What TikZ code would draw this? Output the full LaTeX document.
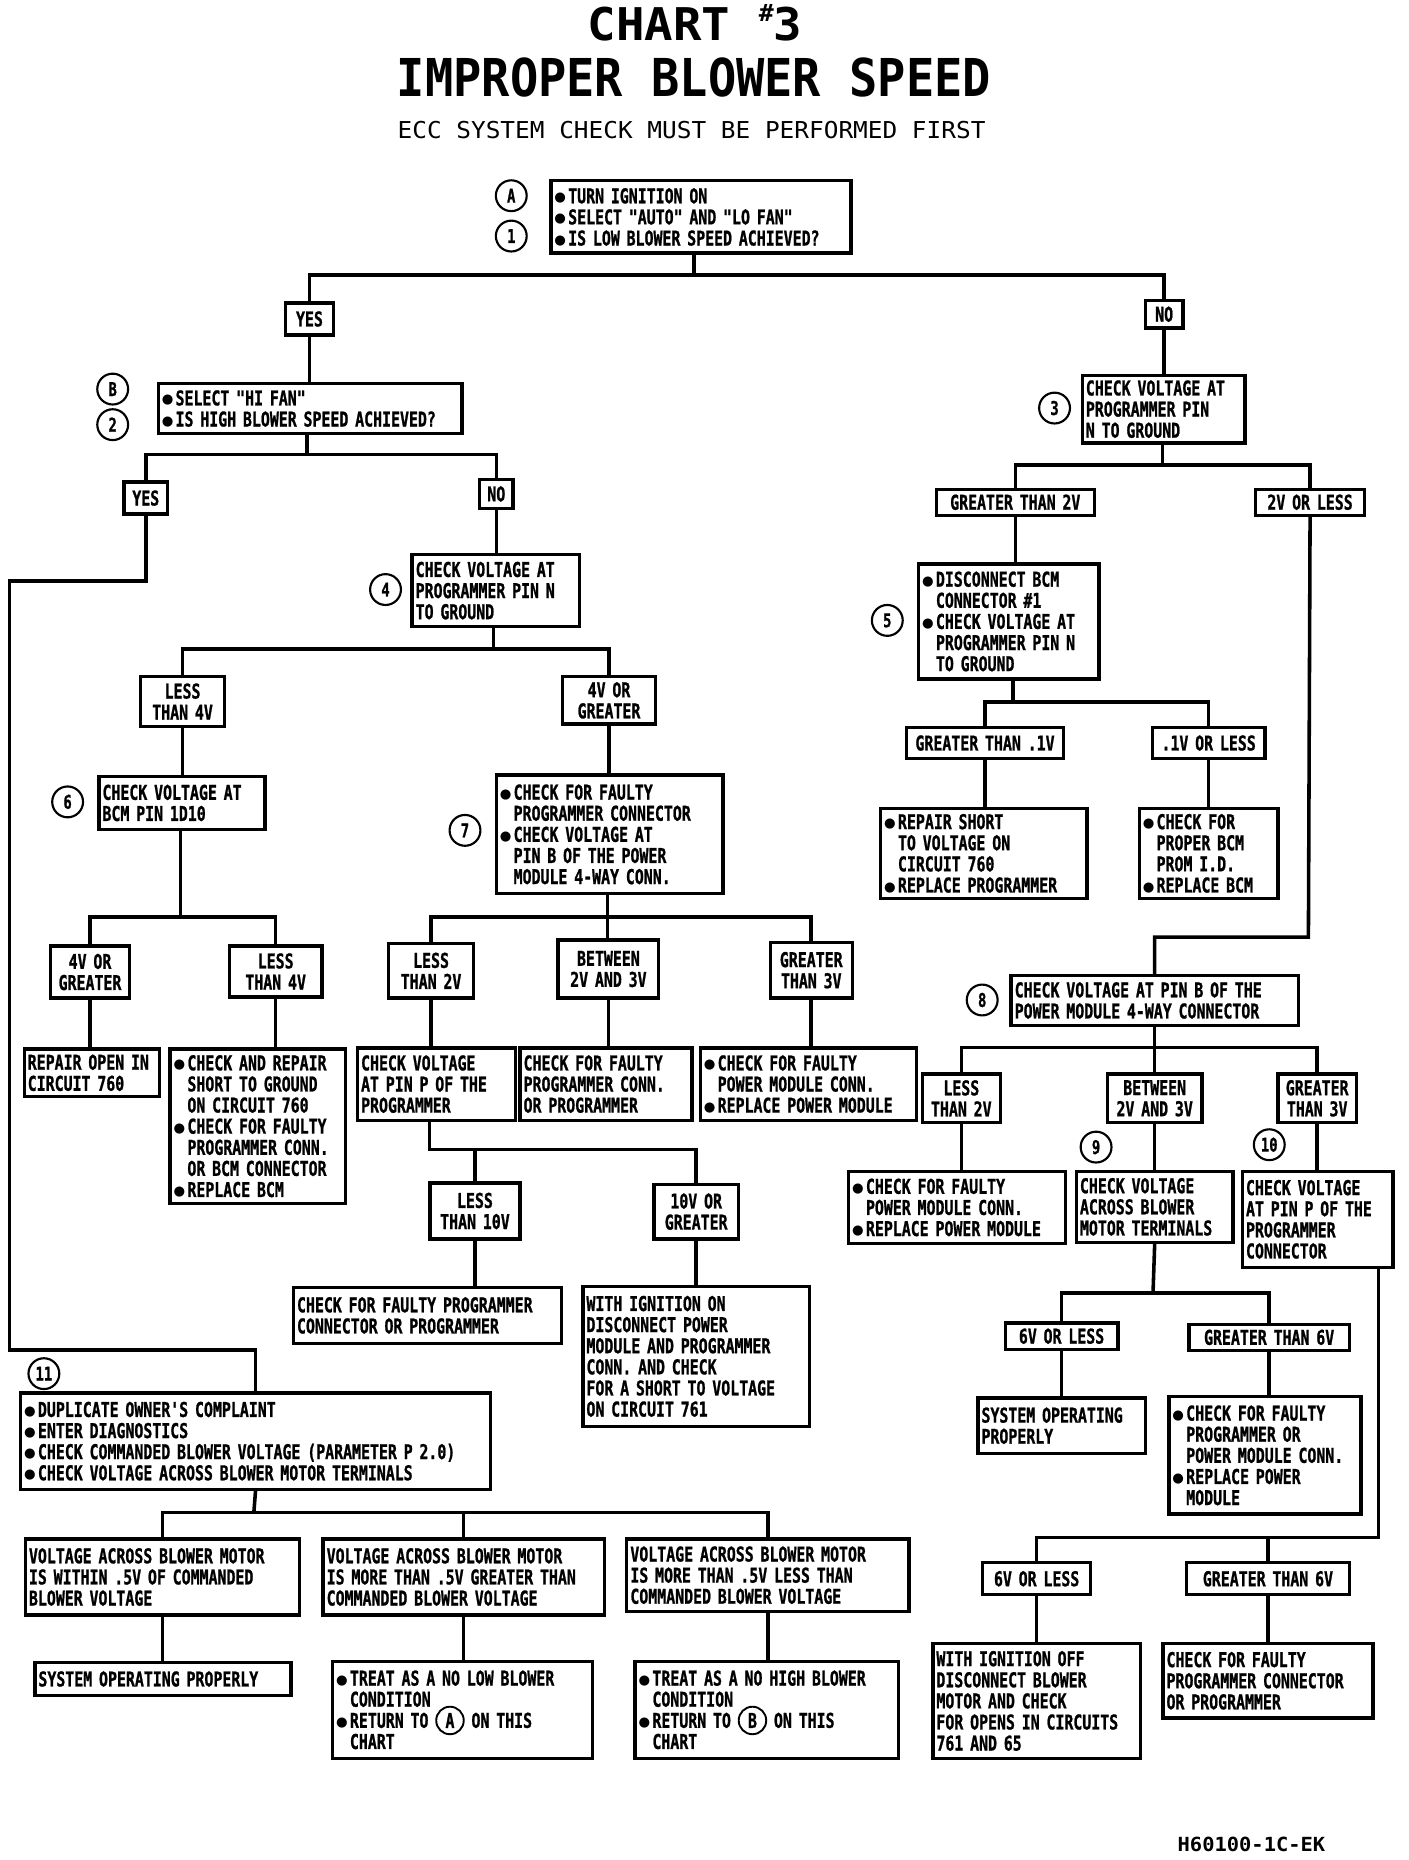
\documentclass[tikz,border=0pt]{standalone}
\usepackage{fontspec}
\newfontfamily\chartfont[FakeStretch=0.73, FakeBold=1]{DejaVu Sans Mono}
\newfontfamily\headfont[FakeStretch=0.9]{DejaVu Sans Mono}
\newfontfamily\widefont[FakeStretch=1.05]{DejaVu Sans Mono}
\newfontfamily\dotfont{DejaVu Sans}
% 项目符号与缩进
\newcommand{\itemdot}{\makebox[5.8pt][l]{\raisebox{0.6pt}{\dotfont\fontsize{5.6pt}{5.6pt}\selectfont ●}}}
\newcommand{\itemgap}{\hspace*{5.8pt}}
% 文字中的圆圈标记
\newcommand{\circtag}[1]{\smash{\begin{pgfpicture}\pgfsetbaseline{0pt}\pgfsetlinewidth{0.8pt}%
  \pgfpathcircle{\pgfpoint{0pt}{3.1pt}}{5.8pt}\pgfusepath{stroke}%
  \pgftext[at={\pgfpoint{0pt}{3.1pt}}]{#1}\end{pgfpicture}}}
\tikzset{
  cbox/.style={draw, line width=1.4pt, anchor=north west, align=left,
    inner xsep=1.5pt, inner ysep=1.5pt,
    font=\chartfont\bfseries\fontsize{8.6pt}{8.9pt}\selectfont},
  lbl/.style={cbox, align=center},
  tag/.style={circle, draw, line width=0.9pt, minimum size=13pt, inner sep=0pt,
    font=\chartfont\bfseries\fontsize{8pt}{8pt}\selectfont},
  wire/.style={line width=1.5pt}
}
\begin{document}
\begin{tikzpicture}[x=0.5pt, y=-0.5pt]
    \useasboundingbox (0,0) rectangle (1187,1568);

    % 标题
    \node[anchor=base, font=\widefont\bfseries\fontsize{19pt}{19pt}\selectfont] (chart) at (586,34)
        {CHART \raisebox{8pt}{\fontsize{10pt}{10pt}\selectfont\#}3};
    \node[anchor=base, font=\headfont\bfseries\fontsize{22pt}{22pt}\selectfont] (head) at (585,81)
        {IMPROPER BLOWER SPEED};
    \node[anchor=base, font=\widefont\fontsize{9.8pt}{9.8pt}\selectfont] (note) at (583,117)
        {ECC SYSTEM CHECK MUST BE PERFORMED FIRST};
    \node[anchor=base, font=\widefont\bfseries\fontsize{8.2pt}{8.2pt}\selectfont] (code) at (1055,1561)
        {H60100-1C-EK};

    % 圆圈编号
    \foreach \t/\x/\y in {A/431/165, 1/431/199, B/95/328, 2/95/358, 3/889/344,
        4/325/497, 5/748/523, 6/57/676, 7/392/700, 8/828/843, 9/924/967,
        10/1070/965, 11/37/1158} {
        \node[tag] (c\t) at (\x,\y) {\t};
    }

    % 开始
    \node[cbox, text width=123.5pt, minimum height=30.5pt] (start) at (463,151)
        {\itemdot TURN IGNITION ON\\\itemdot SELECT "AUTO" AND "LO FAN"\\\itemdot IS LOW BLOWER SPEED ACHIEVED?};
    \node[lbl, text width=17.5pt, minimum height=13.5pt] (yes1) at (239,254) {YES};
    \node[lbl, text width=13pt, minimum height=11.5pt] (no1) at (964,252) {NO};

    % 左侧分支
    \node[cbox, text width=125pt, minimum height=21pt] (hifan) at (132,322)
        {\itemdot SELECT "HI FAN"\\\itemdot IS HIGH BLOWER SPEED ACHIEVED?};
    \node[lbl, text width=15.5pt, minimum height=13.5pt] (yes2) at (103,405) {YES};
    \node[lbl, text width=11pt, minimum height=12pt] (no2) at (403,403) {NO};
    \node[cbox, text width=67.5pt, minimum height=30.5pt] (pinN) at (346,466)
        {CHECK VOLTAGE AT\\PROGRAMMER PIN N\\TO GROUND};
    \node[lbl, text width=32.5pt, minimum height=21pt] (lt4) at (117,569) {LESS\\THAN 4V};
    \node[lbl, text width=36pt, minimum height=20pt] (ge4) at (473,569) {4V OR\\GREATER};
    \node[cbox, text width=67pt, minimum height=22.5pt] (bcmpin) at (82,653)
        {CHECK VOLTAGE AT\\BCM PIN 1D10};
    \node[lbl, text width=30.5pt, minimum height=22pt] (ge4b) at (41,796) {4V OR\\GREATER};
    \node[lbl, text width=36pt, minimum height=21.5pt] (lt4b) at (192,796) {LESS\\THAN 4V};
    \node[cbox, text width=54pt, minimum height=20pt] (open760) at (19,883)
        {REPAIR OPEN IN\\CIRCUIT 760};
    \node[cbox, text width=71pt, minimum height=65pt] (short760) at (142,883)
        {\itemdot CHECK AND REPAIR\\\itemgap SHORT TO GROUND\\\itemgap ON CIRCUIT 760\\\itemdot CHECK FOR FAULTY\\\itemgap PROGRAMMER CONN.\\\itemgap OR BCM CONNECTOR\\\itemdot REPLACE BCM};
    \node[cbox, text width=92.5pt, minimum height=50pt] (pinB) at (417,652)
        {\itemdot CHECK FOR FAULTY\\\itemgap PROGRAMMER CONNECTOR\\\itemdot CHECK VOLTAGE AT\\\itemgap PIN B OF THE POWER\\\itemgap MODULE 4-WAY CONN.};
    \node[lbl, text width=33pt, minimum height=23pt] (lt2) at (326,794) {LESS\\THAN 2V};
    \node[lbl, text width=39.5pt, minimum height=24.5pt] (bt23) at (469,791) {BETWEEN\\2V AND 3V};
    \node[lbl, text width=31.5pt, minimum height=23.5pt] (gt3) at (648,793) {GREATER\\THAN 3V};
    \node[cbox, text width=63.5pt, minimum height=30.5pt] (pinP) at (300,882)
        {CHECK VOLTAGE\\AT PIN P OF THE\\PROGRAMMER};
    \node[cbox, text width=69.5pt, minimum height=30.5pt] (progconn) at (437,882)
        {CHECK FOR FAULTY\\PROGRAMMER CONN.\\OR PROGRAMMER};
    \node[cbox, text width=88pt, minimum height=30.5pt] (pmconn) at (589,882)
        {\itemdot CHECK FOR FAULTY\\\itemgap POWER MODULE CONN.\\\itemdot REPLACE POWER MODULE};
    \node[lbl, text width=35pt, minimum height=23.5pt] (lt10) at (361,996) {LESS\\THAN 10V};
    \node[lbl, text width=32.5pt, minimum height=23pt] (ge10) at (550,997) {10V OR\\GREATER};
    \node[cbox, text width=110pt, minimum height=23.5pt] (progfault) at (246,1084)
        {CHECK FOR FAULTY PROGRAMMER\\CONNECTOR OR PROGRAMMER};
    \node[cbox, text width=92.5pt, minimum height=59pt] (short761) at (490,1083)
        {WITH IGNITION ON\\DISCONNECT POWER\\MODULE AND PROGRAMMER\\CONN. AND CHECK\\FOR A SHORT TO VOLTAGE\\ON CIRCUIT 761};

    % 右侧分支
    \node[cbox, text width=65.5pt, minimum height=28.5pt] (pinN2) at (911,315)
        {CHECK VOLTAGE AT\\PROGRAMMER PIN\\N TO GROUND};
    \node[lbl, text width=63.5pt, minimum height=11pt] (gt2v) at (788,411) {GREATER THAN 2V};
    \node[lbl, text width=43pt, minimum height=11pt] (le2v) at (1057,411) {2V OR LESS};
    \node[cbox, text width=73pt, minimum height=48.5pt] (bcmconn) at (773,474)
        {\itemdot DISCONNECT BCM\\\itemgap CONNECTOR \#1\\\itemdot CHECK VOLTAGE AT\\\itemgap PROGRAMMER PIN N\\\itemgap TO GROUND};
    \node[lbl, text width=63pt, minimum height=13pt] (gt01) at (763,612) {GREATER THAN .1V};
    \node[lbl, text width=44.5pt, minimum height=13pt] (le01) at (970,612) {.1V OR LESS};
    \node[cbox, text width=84pt, minimum height=38pt] (repshort) at (741,680)
        {\itemdot REPAIR SHORT\\\itemgap TO VOLTAGE ON\\\itemgap CIRCUIT 760\\\itemdot REPLACE PROGRAMMER};
    \node[cbox, text width=55.5pt, minimum height=38pt] (prom) at (959,680)
        {\itemdot CHECK FOR\\\itemgap PROPER BCM\\\itemgap PROM I.D.\\\itemdot REPLACE BCM};
    \node[cbox, text width=118pt, minimum height=21pt] (pinB2) at (851,821)
        {CHECK VOLTAGE AT PIN B OF THE\\POWER MODULE 4-WAY CONNECTOR};
    \node[lbl, text width=30pt, minimum height=20.5pt] (lt2b) at (776,904) {LESS\\THAN 2V};
    \node[lbl, text width=37pt, minimum height=20.5pt] (bt23b) at (932,904) {BETWEEN\\2V AND 3V};
    \node[lbl, text width=30pt, minimum height=20.5pt] (gt3b) at (1076,904) {GREATER\\THAN 3V};
    \node[cbox, text width=88.5pt, minimum height=30.5pt] (pmconn2) at (714,986)
        {\itemdot CHECK FOR FAULTY\\\itemgap POWER MODULE CONN.\\\itemdot REPLACE POWER MODULE};
    \node[cbox, text width=63pt, minimum height=30pt] (motor) at (906,986)
        {CHECK VOLTAGE\\ACROSS BLOWER\\MOTOR TERMINALS};
    \node[cbox, text width=60.5pt, minimum height=40.5pt] (pinP2) at (1046,986)
        {CHECK VOLTAGE\\AT PIN P OF THE\\PROGRAMMER\\CONNECTOR};
    \node[lbl, text width=44.5pt, minimum height=11pt] (le6) at (846,1114) {6V OR LESS};
    \node[lbl, text width=64.5pt, minimum height=11pt] (gt6) at (1001,1115) {GREATER THAN 6V};
    \node[cbox, text width=67.5pt, minimum height=23.5pt] (sysok) at (823,1177)
        {SYSTEM OPERATING\\PROPERLY};
    \node[cbox, text width=78pt, minimum height=49.5pt] (pmfault) at (984,1176)
        {\itemdot CHECK FOR FAULTY\\\itemgap PROGRAMMER OR\\\itemgap POWER MODULE CONN.\\\itemdot REPLACE POWER\\\itemgap MODULE};
    \node[lbl, text width=42.5pt, minimum height=13.5pt] (le6b) at (827,1316) {6V OR LESS};
    \node[lbl, text width=65.5pt, minimum height=13.5pt] (gt6b) at (999,1316) {GREATER THAN 6V};
    \node[cbox, text width=84.5pt, minimum height=48.5pt] (opens) at (785,1384)
        {WITH IGNITION OFF\\DISCONNECT BLOWER\\MOTOR AND CHECK\\FOR OPENS IN CIRCUITS\\761 AND 65};
    \node[cbox, text width=85.5pt, minimum height=31.5pt] (progfault2) at (979,1384)
        {CHECK FOR FAULTY\\PROGRAMMER CONNECTOR\\OR PROGRAMMER};

    % 底部
    \node[cbox, text width=195pt, minimum height=40.5pt] (diag) at (16,1173)
        {\itemdot DUPLICATE OWNER'S COMPLAINT\\\itemdot ENTER DIAGNOSTICS\\\itemdot CHECK COMMANDED BLOWER VOLTAGE (PARAMETER P 2.0)\\\itemdot CHECK VOLTAGE ACROSS BLOWER MOTOR TERMINALS};
    \node[cbox, text width=112.5pt, minimum height=32pt] (within) at (20,1296)
        {VOLTAGE ACROSS BLOWER MOTOR\\IS WITHIN .5V OF COMMANDED\\BLOWER VOLTAGE};
    \node[cbox, text width=115.5pt, minimum height=32pt] (above) at (271,1296)
        {VOLTAGE ACROSS BLOWER MOTOR\\IS MORE THAN .5V GREATER THAN\\COMMANDED BLOWER VOLTAGE};
    \node[cbox, text width=116pt, minimum height=30.5pt] (below) at (527,1296)
        {VOLTAGE ACROSS BLOWER MOTOR\\IS MORE THAN .5V LESS THAN\\COMMANDED BLOWER VOLTAGE};
    \node[cbox, text width=105pt, minimum height=14pt] (sysok2) at (28,1400)
        {SYSTEM OPERATING PROPERLY};
    \node[cbox, text width=106.5pt, minimum height=41pt] (lowblow) at (279,1399)
        {\itemdot TREAT AS A NO LOW BLOWER\\\itemgap CONDITION\\\itemdot RETURN TO \circtag{A} ON THIS\\\itemgap CHART};
    \node[cbox, text width=108pt, minimum height=41pt] (highblow) at (534,1399)
        {\itemdot TREAT AS A NO HIGH BLOWER\\\itemgap CONDITION\\\itemdot RETURN TO \circtag{B} ON THIS\\\itemgap CHART};

    % 分叉点
    \coordinate (s1) at (585,232);
    \coordinate (s2) at (259,383);
    \coordinate (s4) at (416,547);
    \coordinate (s6) at (152,773);
    \coordinate (s7) at (512,773);
    \coordinate (s7a) at (362,969);
    \coordinate (s3) at (980,392);
    \coordinate (s5) at (854,592);
    \coordinate (s8) at (972,883);
    \coordinate (s9) at (972,1090);
    \coordinate (s10) at (1162,1296);
    \coordinate (s11) at (214,1275);
    \coordinate (k1) at (8,490);
    \coordinate (k2) at (8,1138);
    \coordinate (k3) at (1103,790);

    % 连线
    \draw[wire] (start.south -| s1) -- (s1);
    \draw[wire] (yes1.north) |- (s1) -| (no1.north);
    \draw[wire] (yes1.south) -- (yes1.south |- hifan.north);
    \draw[wire] (no1.south) -- (no1.south |- pinN2.north);

    \draw[wire] (hifan.south -| s2) -- (s2);
    \draw[wire] (yes2.north) |- (s2) -| (no2.north);
    \draw[wire] (no2.south) -- (no2.south |- pinN.north);
    \draw[wire] (yes2.south) |- (k1) -- (k2) -| (diag.north);

    \draw[wire] (pinN.south -| s4) -- (s4);
    \draw[wire] (lt4.north) |- (s4) -| (ge4.north);
    \draw[wire] (lt4.south) -- (lt4.south |- bcmpin.north);
    \draw[wire] (ge4.south) -- (ge4.south |- pinB.north);
    \draw[wire] (bcmpin.south -| s6) -- (s6);
    \draw[wire] (ge4b.north) |- (s6) -| (lt4b.north);
    \draw[wire] (ge4b.south) -- (ge4b.south |- open760.north);
    \draw[wire] (lt4b.south) -- (lt4b.south |- short760.north);

    \draw[wire] (pinB.south -| s7) -- (s7 |- bt23.north);
    \draw[wire] (lt2.north) |- (s7) -| (gt3.north);
    \draw[wire] (lt2.south) -- (lt2.south |- pinP.north);
    \draw[wire] (bt23.south) -- (bt23.south |- progconn.north);
    \draw[wire] (gt3.south) -- (gt3.south |- pmconn.north);
    \draw[wire] (pinP.south -| s7a) -- (s7a) -| (ge10.north);
    \draw[wire] (lt10.north) -- (lt10.north |- s7a);
    \draw[wire] (lt10.south) -- (lt10.south |- progfault.north);
    \draw[wire] (ge10.south) -- (ge10.south |- short761.north);

    \draw[wire] (pinN2.south -| s3) -- (s3);
    \draw[wire] (gt2v.north) |- (s3) -| (le2v.north);
    \draw[wire] (gt2v.south) -- (gt2v.south |- bcmconn.north);
    \draw[wire] (le2v.south) -- (k3) -| (pinB2.north);
    \draw[wire] (bcmconn.south -| s5) -- (s5);
    \draw[wire] (gt01.north) |- (s5) -| (le01.north);
    \draw[wire] (gt01.south) -- (gt01.south |- repshort.north);
    \draw[wire] (le01.south) -- (le01.south |- prom.north);

    \draw[wire] (pinB2.south) -- (pinB2.south |- bt23b.north);
    \draw[wire] (lt2b.north) |- (s8) -| (gt3b.north);
    \draw[wire] (lt2b.south) -- (lt2b.south |- pmconn2.north);
    \draw[wire] (bt23b.south) -- (bt23b.south |- motor.north);
    \draw[wire] (gt3b.south) -- (gt3b.south |- pinP2.north);
    \draw[wire] (motor.south) -- (s9);
    \draw[wire] (le6.north) |- (s9) -| (gt6.north);
    \draw[wire] (le6.south) -- (le6.south |- sysok.north);
    \draw[wire] (gt6.south) -- (gt6.south |- pmfault.north);
    \draw[wire] (pinP2.south -| s10) -- (s10) -| (le6b.north);
    \draw[wire] (gt6b.north) -- (gt6b.north |- s10);
    \draw[wire] (le6b.south) -- (le6b.south |- opens.north);
    \draw[wire] (gt6b.south) -- (gt6b.south |- progfault2.north);

    \draw[wire] (diag.south) -- (s11);
    \draw[wire] (within.north) |- (s11) -| (below.north);
    \draw[wire] (above.north) -- (above.north |- s11);
    \draw[wire] (within.south) -- (within.south |- sysok2.north);
    \draw[wire] (above.south) -- (above.south |- lowblow.north);
    \draw[wire] (below.south) -- (below.south |- highblow.north);

\end{tikzpicture}
\end{document}
